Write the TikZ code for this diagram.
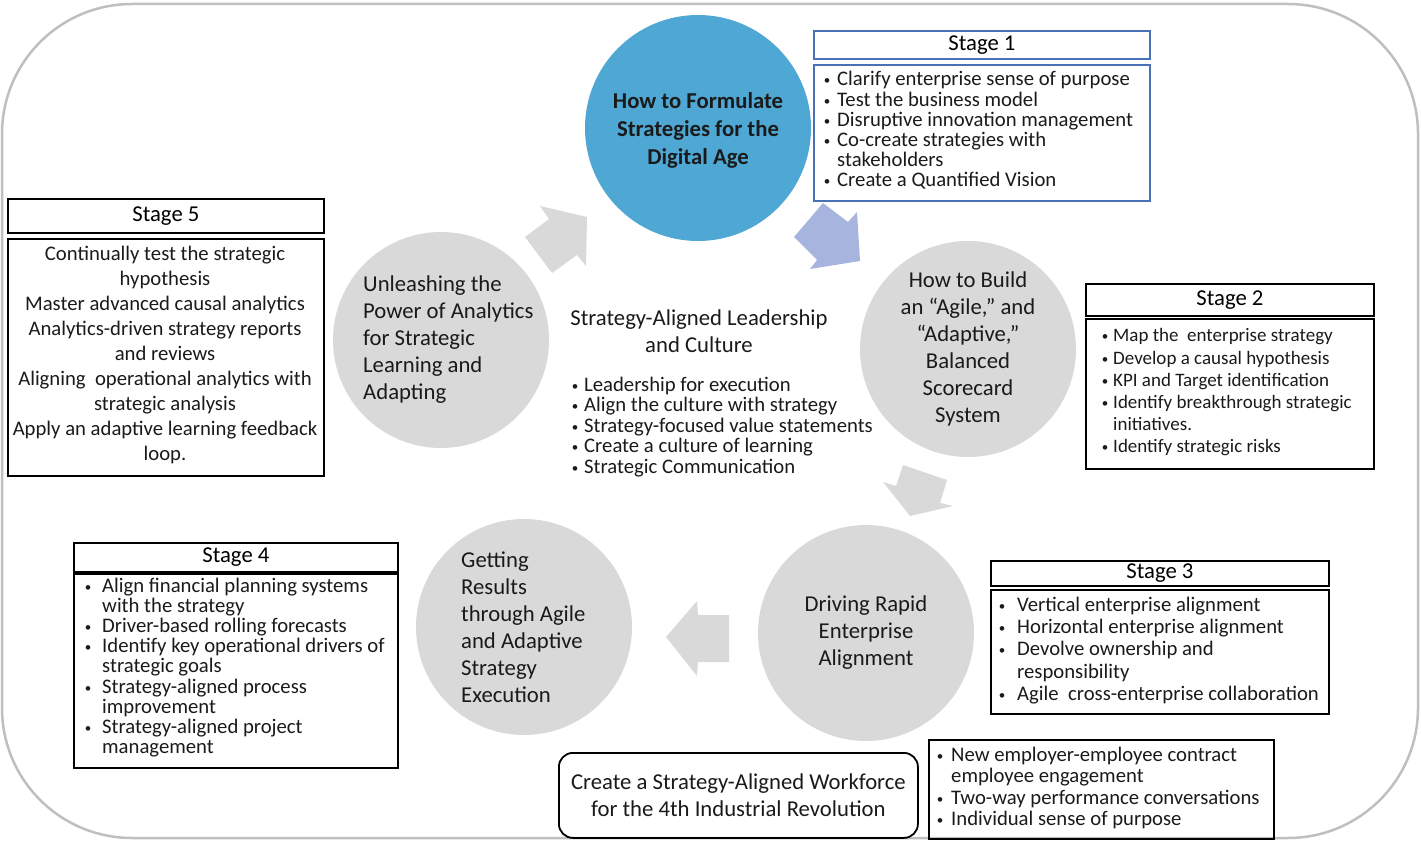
\documentclass[tikz,border=0pt]{standalone}
\usepackage{fontspec}
\setmainfont{Carlito}
\definecolor{framegray}{HTML}{BFBFBF}
\definecolor{circgray}{HTML}{D9D9D9}
\definecolor{circblue}{HTML}{4FA7D4}
\definecolor{arrblue}{HTML}{A7B4DE}
\definecolor{boxblue}{HTML}{4A70B8}
\definecolor{textdark}{HTML}{1A1A1A}
\newlength\bw
\newlength\bg
\newcommand\smallbul{\raisebox{1pt}{\fontsize{13}{13}\selectfont\textbullet}}
\newcommand\bul{\makebox[\bw][r]{\makebox[0pt][c]{\smallbul}\hspace{\bg}}}
\newcommand\cont{\hspace*{\bw}}
\tikzset{
  frameline/.style={draw=framegray, line width=2.5pt, rounded corners=130pt},
  circ/.style={circle, fill=circgray, inner sep=0pt, minimum size=216pt},
  arrgray/.style={fill=circgray},
  arrbl/.style={fill=arrblue},
  box/.style={draw=black, line width=1.8pt, inner sep=0pt, anchor=north west},
  bluebox/.style={box, draw=boxblue},
  hdr/.style={font=\fontsize{22.7}{27}\selectfont},
  txt/.style={inner sep=0pt, text=textdark},
  title/.style={txt, font=\fontsize{22.7}{27}\selectfont},
  body/.style={txt, align=left, anchor=west},
  bwidth/.code={\global\bw=#1\relax},
  bgap/.code={\global\bg=#1\relax},
}
\begin{document}
\begin{tikzpicture}[x=1pt,y=-1pt]
\useasboundingbox (0,0) rectangle (1421,842);
% outer frame
\draw[frameline] (2,4) rectangle (1418,838);

% circles
\node[circ, fill=circblue, minimum size=226pt] (c1) at (698,128) {};
\node[circ] (c2) at (968,349) {};
\node[circ] (c3) at (866,633) {};
\node[circ] (c4) at (524,627) {};
\node[circ] (c5) at (441,340) {};

% circle texts
\node[title, align=center, font=\bfseries\fontsize{22.7}{28}\selectfont] (t1) at (698,130) {How to Formulate\\Strategies for the\\Digital Age};
\node[title, align=center] (t2) at (968,348.5) {How to Build\\an “Agile,” and\\“Adaptive,”\\Balanced\\Scorecard\\System};
\node[title, align=center] (t3) at (866,633) {Driving Rapid\\Enterprise\\Alignment};
\node[title, align=left, anchor=west] (t4) at (461,627.5) {Getting\\Results\\through Agile\\and Adaptive\\Strategy\\Execution};
\node[title, align=left, anchor=west] (t5) at (363,340) {Unleashing the\\Power of Analytics\\for Strategic\\Learning and\\Adapting};

% block arrows
\fill[arrgray] (525,237) -- (549,219) -- (540,206) -- (587,217) -- (586,266) -- (577,255) -- (552,273) -- cycle;
\fill[arrbl] (823,203) -- (848,222) -- (857,212) -- (860,261) -- (810,269) -- (817,260) -- (794,237) -- cycle;
\fill[arrgray] (903,465) -- (947,480) -- (940,503) -- (953,506) -- (910,516) -- (883,482) -- (896,486) -- cycle;
\fill[arrgray] (666,637) -- (697,601) -- (698,615) -- (729,615) -- (729,662) -- (698,662) -- (697,676) -- cycle;

% centre text
\node[title, align=center] (ct) at (699,331.5) {Strategy-Aligned Leadership\\and Culture};
\node[body, bwidth=14pt, bgap=9pt, font=\fontsize{20.7}{20.5}\selectfont] (cb) at (570,427) {\bul Leadership for execution\\\bul Align the culture with strategy\\\bul Strategy-focused value statements\\\bul Create a culture of learning\\\bul Strategic Communication};

% Stage 1
\node[bluebox, hdr, minimum width=336pt, minimum height=28pt] (s1h) at (813,30) {Stage 1};
\node[bluebox, minimum width=336pt, minimum height=136pt] (s1b) at (813,64) {};
\node[body, bwidth=15pt, bgap=10pt, font=\fontsize{20.7}{20.2}\selectfont] (s1t) at (822,130.5) {\bul Clarify enterprise sense of purpose\\\bul Test the business model\\\bul Disruptive innovation management\\\bul Co-create strategies with\\\cont stakeholders\\\bul Create a Quantified Vision};

% Stage 2
\node[box, hdr, minimum width=288pt, minimum height=32pt] (s2h) at (1085,283) {Stage 2};
\node[box, minimum width=288pt, minimum height=150pt] (s2b) at (1085,318) {};
\node[body, bwidth=15pt, bgap=8pt, font=\fontsize{19}{22.2}\selectfont] (s2t) at (1098,392.5) {\bul Map the\ \ enterprise strategy\\\bul Develop a causal hypothesis\\\bul KPI and Target identification\\\bul Identify breakthrough strategic\\\cont initiatives.\\\bul Identify strategic risks};

% Stage 3
\node[box, hdr, minimum width=338pt, minimum height=25pt] (s3h) at (990,560) {Stage 3};
\node[box, minimum width=338pt, minimum height=124pt] (s3b) at (990,589) {};
\node[body, bwidth=18pt, bgap=15pt, font=\fontsize{20.7}{22.2}\selectfont] (s3t) at (999,650.5) {\bul Vertical enterprise alignment\\\bul Horizontal enterprise alignment\\\bul Devolve ownership and\\\cont responsibility\\\bul Agile\ \ cross-enterprise collaboration};

% Stage 4
\node[box, hdr, minimum width=324pt, minimum height=29pt] (s4h) at (73,542) {Stage 4};
\node[box, minimum width=324pt, minimum height=194pt] (s4b) at (73,573) {};
\node[body, bwidth=17pt, bgap=14pt, font=\fontsize{20.7}{20.1}\selectfont] (s4t) at (85,667.5) {\bul Align financial planning systems\\\cont with the strategy\\\bul Driver-based rolling forecasts\\\bul Identify key operational drivers of\\\cont strategic goals\\\bul Strategy-aligned process\\\cont improvement\\\bul Strategy-aligned project\\\cont management};

% Stage 5
\node[box, hdr, minimum width=316pt, minimum height=34pt] (s5h) at (7,198) {Stage 5};
\node[box, minimum width=316pt, minimum height=237pt] (s5b) at (7,238) {};
\node[txt, align=center, font=\fontsize{20.7}{25}\selectfont] (s5t) at (165,355) {Continually test the strategic\\hypothesis\\Master advanced causal analytics\\Analytics-driven strategy reports\\and reviews\\Aligning\ \ operational analytics with\\strategic analysis\\Apply an adaptive learning feedback\\loop.};

% bottom boxes
\node[box, title, align=center, rounded corners=14pt, minimum width=359pt, minimum height=85pt] (wf) at (558,752) {Create a Strategy-Aligned Workforce\\for the 4th Industrial Revolution};
\node[box, minimum width=345pt, minimum height=99pt] (wb) at (928,739) {};
\node[body, bwidth=14pt, bgap=11pt, font=\fontsize{20.7}{21.3}\selectfont] (wt) at (937,788) {\bul New employer-employee contract\\\cont employee engagement\\\bul Two-way performance conversations\\\bul Individual sense of purpose};
\end{tikzpicture}
\end{document}
